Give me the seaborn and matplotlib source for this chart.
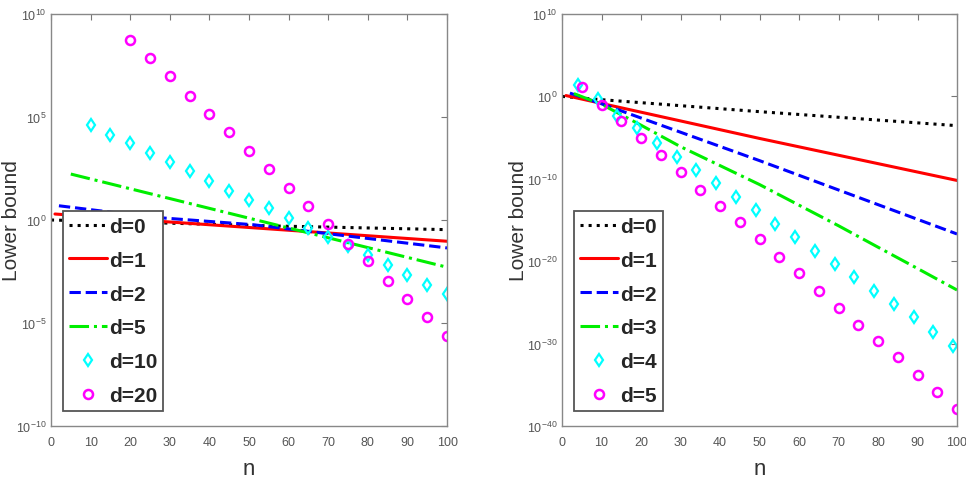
import numpy as np
import pandas as pd
import matplotlib
matplotlib.use('Agg')
import matplotlib.pyplot as plt
import seaborn as sns

# ---- left panel: values ----
left_n0 = [0, 55, 100]
left_d0 = [1.0, 0.52, 0.34]
left_n1 = [1, 100]
left_d1 = [1.95, 0.093]
left_n2 = [2, 25, 51, 100]
left_d2 = [4.9, 1.4, 0.59, 0.044]
left_n5 = [5, 100]
left_d5 = [170, 0.0051]
left_n10 = list(range(10, 101, 5))
left_d10 = [4.1e4, 1.35e4, 5.2e3, 1.8e3, 630, 230, 81, 26, 9.3, 3.7, 1.2, 0.43,
            0.155, 0.055, 0.019, 6.8e-3, 2.2e-3, 7.2e-4, 2.5e-4]
left_n20 = list(range(20, 101, 5))
left_d20 = [5.5e8, 7.2e7, 9.3e6, 1.1e6, 1.4e5, 1.8e4, 2.3e3, 300, 35, 4.7, 0.65,
            0.071, 0.01, 1.1e-3, 1.5e-4, 1.9e-5, 2.4e-6]

# ---- right panel ----
right_n0 = [0, 10, 50, 100]
right_d0 = [1.0, 0.4, 0.014, 2.8e-4]
right_n1 = [1, 10, 50, 100]
right_d1 = [1.26, 0.14, 7.9e-6, 6.3e-11]
right_n2 = [2, 10, 50, 100]
right_d2 = [2.5, 0.126, 1.6e-8, 2.0e-17]
right_n3 = [3, 10, 20, 30, 40, 50, 60, 70, 80, 90, 100]
right_d3 = [2.2, 0.11, 3.2e-4, 7.9e-7, 4.0e-9, 2.0e-11, 6.3e-14, 2.0e-16,
            5.0e-19, 1.3e-21, 3.2e-24]
right_n4 = list(range(4, 100, 5))
right_d4 = [24, 0.48, 4.6e-3, 1.3e-4, 2.2e-6, 4.9e-8, 1.2e-9, 2.8e-11, 6.8e-13,
            1.6e-14, 3.2e-16, 9.5e-18, 1.9e-19, 4.6e-21, 1.1e-22, 2.6e-24,
            6.5e-26, 1.5e-27, 2.8e-29, 5.6e-31]
right_n5 = list(range(5, 101, 5))
right_d5 = [12.6, 0.091, 9.5e-4, 8.1e-6, 7.8e-8, 6.2e-10, 4.8e-12, 5.5e-14,
            5.2e-16, 4.5e-18, 3.5e-20, 3.4e-22, 2.6e-24, 2.1e-26, 1.8e-28,
            2.2e-30, 2.2e-32, 1.7e-34, 1.4e-36, 1.1e-38]

left_labels = ['d=0', 'd=1', 'd=2', 'd=5', 'd=10', 'd=20']
right_labels = ['d=0', 'd=1', 'd=2', 'd=3', 'd=4', 'd=5']
left_yticks = [1e-10, 1e-5, 1e0, 1e5, 1e10]
right_yticks = [1e-40, 1e-30, 1e-20, 1e-10, 1e0, 1e10]
xticks = list(range(0, 101, 10))

sns.set_style('white')
plt.rcParams['font.family'] = ['Liberation Sans', 'DejaVu Sans']
plt.rcParams['mathtext.fontset'] = 'custom'
plt.rcParams['mathtext.rm'] = 'Liberation Sans'
plt.rcParams['mathtext.it'] = 'Liberation Sans'
plt.rcParams['mathtext.bf'] = 'Liberation Sans:bold'

fig = plt.figure(figsize=(9.66, 4.85), dpi=100)
ax1 = fig.add_axes([0.0528, 0.1196, 0.41, 0.8495])
ax2 = fig.add_axes([0.5818, 0.1196, 0.4089, 0.8495])

line_styles = [('black', ':'), ('red', '-'), ('blue', '--'), ('#00ee00', '-.')]


def draw(ax, lines, dots, labels, yticks, ylim):
    for (n, v), (c, ls), lab in zip(lines, line_styles, labels[:4]):
        sns.lineplot(x=n, y=v, ax=ax, color=c, linestyle=ls, lw=2.2, label=lab)
    (n4, v4), (n5, v5) = dots
    sns.lineplot(x=n4, y=v4, ax=ax, linestyle='none', marker='d', ms=6.5,
                 mfc='none', mec='cyan', mew=1.6, label=labels[4])
    sns.lineplot(x=n5, y=v5, ax=ax, linestyle='none', marker='o', ms=6.5,
                 mfc='none', mec='magenta', mew=1.8, label=labels[5])
    ax.set_yscale('log')
    ax.set_xlim(0, 100)
    ax.set_ylim(*ylim)
    ax.set_xticks(xticks)
    ax.set_yticks(yticks)
    ax.minorticks_off()
    ax.tick_params(direction='in', top=True, right=True, length=4, width=0.8,
                   color='#777777', labelcolor='#555555', labelsize=9)
    ax.tick_params(axis='x', pad=7)
    ax.tick_params(axis='y', pad=3)
    for s in ax.spines.values():
        s.set_color('#888888')
        s.set_linewidth(1.0)
    ax.set_xlabel('n', fontsize=16, color='#333333')
    ax.xaxis.set_label_coords(0.5, -0.078)
    ax.set_ylabel('Lower bound', fontsize=15, color='#333333')
    leg = ax.legend(loc='lower left', bbox_to_anchor=(0.03, 0.036),
                    borderaxespad=0, fancybox=False, framealpha=1,
                    edgecolor='#555555', handlelength=1.8, handletextpad=0.1,
                    labelspacing=0.71, borderpad=0.3,
                    prop={'weight': 'bold', 'size': 15})
    leg.get_frame().set_linewidth(1.3)


draw(ax1,
     [(left_n0, left_d0), (left_n1, left_d1), (left_n2, left_d2), (left_n5, left_d5)],
     [(left_n10, left_d10), (left_n20, left_d20)],
     left_labels, left_yticks, (1e-10, 1e10))
draw(ax2,
     [(right_n0, right_d0), (right_n1, right_d1), (right_n2, right_d2), (right_n3, right_d3)],
     [(right_n4, right_d4), (right_n5, right_d5)],
     right_labels, right_yticks, (1e-40, 1e10))

ax1.yaxis.set_label_coords(-0.077, 0.5)
ax2.yaxis.set_label_coords(-0.085, 0.5)

fig.savefig('out.png', dpi=100)
